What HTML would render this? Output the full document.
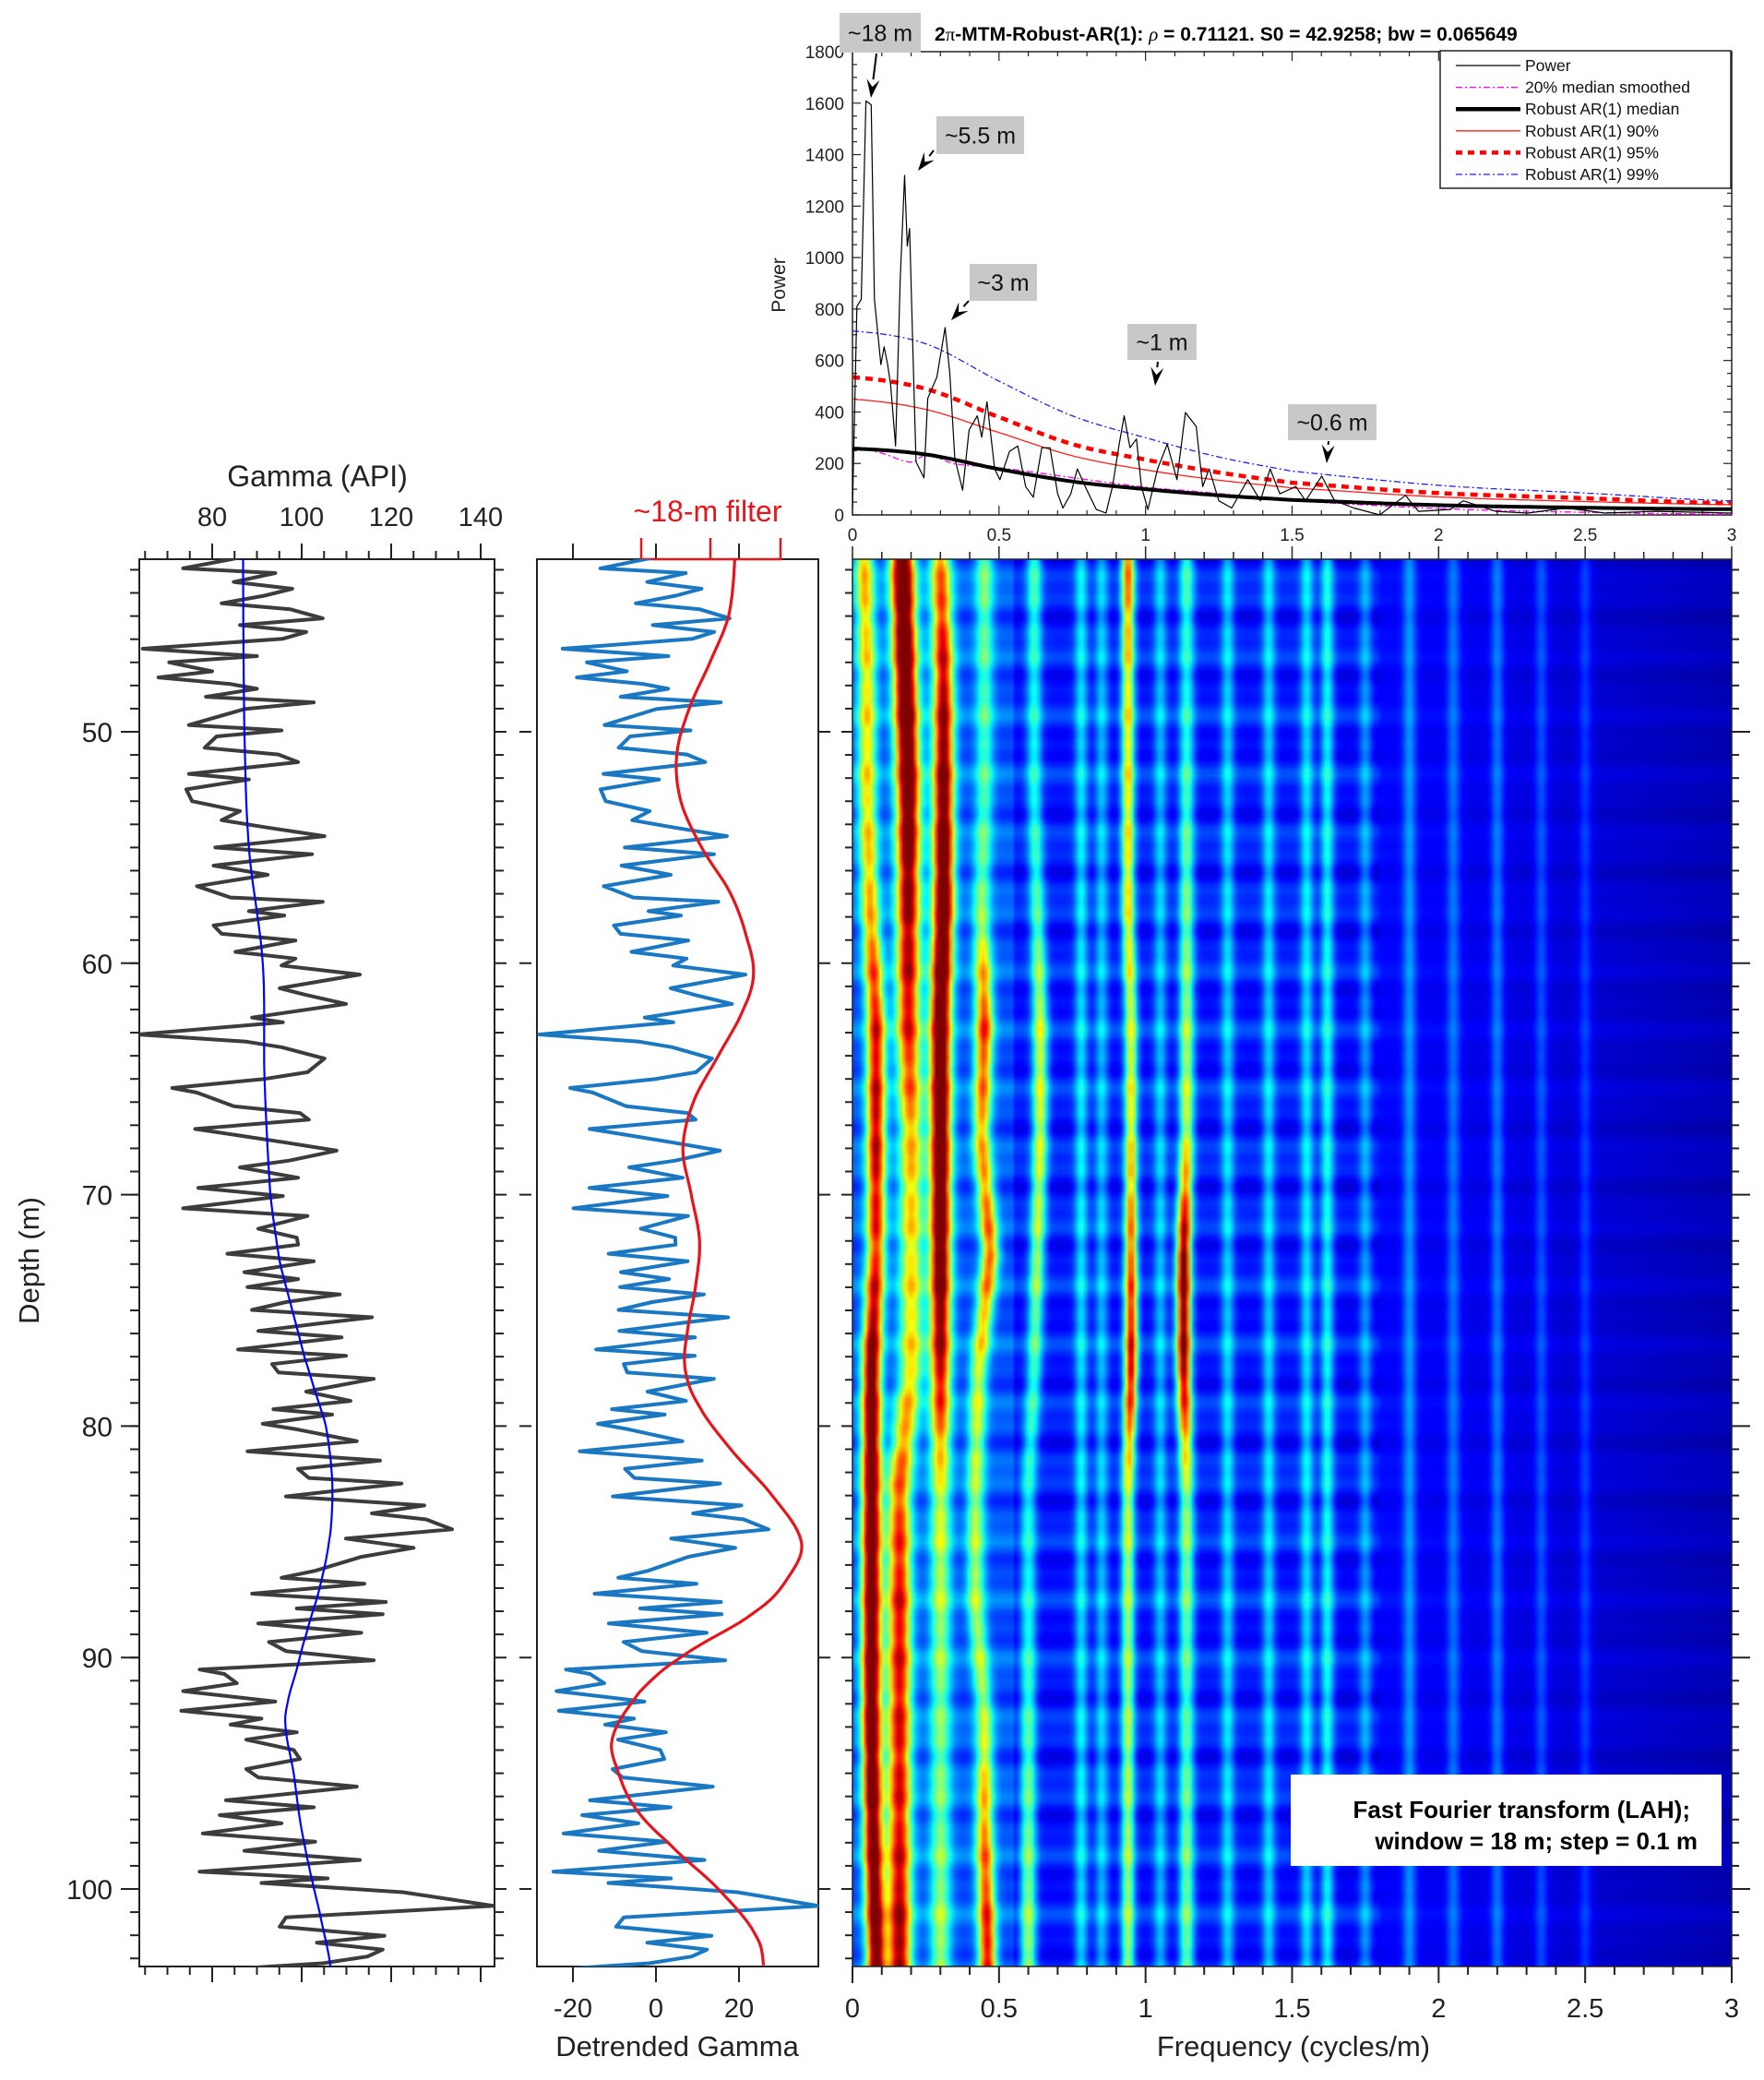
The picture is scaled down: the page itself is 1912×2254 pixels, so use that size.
<!DOCTYPE html>
<html><head><meta charset="utf-8">
<style>
html,body{margin:0;padding:0;background:#fff;}
#wrap{position:relative;width:1912px;height:2254px;overflow:hidden;}
#heat{position:absolute;left:924px;top:606px;}
#svg{position:absolute;left:0;top:0;}
text{font-family:"Liberation Sans",Arial,sans-serif;}
</style></head>
<body>
<div id="wrap">
<canvas id="heat" width="953" height="1525"></canvas>
<svg id="svg" width="1912" height="2254" xmlns="http://www.w3.org/2000/svg">
  <g id="gLeft"></g>
  <g id="gMid"></g>
  <g id="gHeat"></g>
  <g id="gSpec"></g>

  <text x="344" y="527" font-size="32" text-anchor="middle" fill="#222">Gamma (API)</text>
  <text x="767" y="565" font-size="32" text-anchor="middle" fill="#e8141c">~18-m filter</text>
  <text transform="translate(42,1366) rotate(-90)" font-size="31" text-anchor="middle" fill="#222">Depth (m)</text>
  <text x="734" y="2228" font-size="31" text-anchor="middle" fill="#222">Detrended Gamma</text>
  <text x="1402" y="2228" font-size="31" text-anchor="middle" fill="#222">Frequency (cycles/m)</text>

  <rect x="1399" y="1923" width="467" height="99" fill="#fff"/>
  <text x="1832" y="1970" font-size="26" font-weight="bold" text-anchor="end" fill="#000">Fast Fourier transform (LAH);</text>
  <text x="1840" y="2004" font-size="26" font-weight="bold" text-anchor="end" fill="#000">window = 18 m; step = 0.1 m</text>

  <text x="1013" y="44" font-size="21" font-weight="bold" fill="#000">2<tspan font-weight="normal" font-family="Liberation Serif">π</tspan>-MTM-Robust-AR(1): <tspan font-style="italic" font-weight="normal" font-family="Liberation Serif">ρ</tspan> = 0.71121. S0 = 42.9258; bw = 0.065649</text>
  <text transform="translate(851,309) rotate(-90)" font-size="21" text-anchor="middle" fill="#222">Power</text>
</svg>
</div>
<script>
// ---------- DATA ----------
const gammaDepth = [42.45,42.94,43.14,43.53,43.82,44.12,44.45,44.71,45.1,45.39,45.69,45.98,46.41,46.73,47,47.39,47.65,47.94,48.14,48.49,48.73,49.02,49.71,49.94,50.2,50.69,50.98,51.31,51.82,52.06,52.49,53,53.43,53.82,54.12,54.51,55,55.29,55.78,56.18,56.67,57.16,57.35,57.75,57.94,58.37,58.73,59.02,59.51,59.8,60.1,60.49,61.08,61.37,61.76,62.35,62.55,63.08,63.39,63.63,64.12,64.71,65,65.39,65.59,66.18,66.47,66.76,67.16,67.45,67.75,68.1,68.53,68.82,69.27,69.71,70.06,70.59,70.92,71.47,71.86,72.16,72.55,72.88,73.35,73.65,73.99,74.31,74.64,74.98,75.3,75.54,75.89,76.17,76.69,76.96,77.32,77.68,77.96,78.51,78.91,79.27,79.5,79.9,80.14,80.65,81.09,81.49,81.85,82.24,82.48,83.04,83.43,83.77,84.03,84.46,84.86,85.26,85.65,86.25,86.55,86.81,87.24,87.6,87.88,88.13,88.53,88.93,89.33,89.72,90.12,90.52,90.71,91.11,91.45,91.9,92.3,92.64,92.9,93.23,93.55,93.99,94.38,94.82,95.18,95.58,96.17,96.47,96.81,97.16,97.6,97.96,98.35,98.75,99.25,99.54,99.74,100.14,100.73,101.23,101.63,102.02,102.32,102.62,102.92,103.21,103.47];
const gammaValue = [86.9,73.5,94.1,84.8,97.9,91.7,82.1,97.5,104.7,86.2,101,95.8,64.5,90,70.4,80,68,84.1,90,78.6,102.7,87.2,74.8,95.5,81,78.3,94.8,99.2,74.8,88.2,74.2,75.5,86.2,82.1,91.7,105.1,80.7,102.3,80.3,92.4,76.6,84.1,104.7,88.2,96.1,80.3,82.1,98.6,85.2,98.6,95.5,113,95.1,101,109.9,88.9,95.8,63.5,87.6,95.5,105.1,101.3,91.7,71.1,76.6,84.8,99.6,101.6,76.2,86.2,96.5,107.8,97.2,86.2,99.2,76.9,95.8,73.5,101.3,90.3,98.9,99.2,83.4,102.7,87.2,99.2,87.9,108.5,96.5,88.9,115.7,105.1,90.3,108.9,85.8,109.9,93.4,94.8,116.1,101,110.9,93.7,106.8,91.3,98.9,112.3,87.9,117.5,99.2,101.6,122.3,96.5,127.4,115.7,127.8,133.6,109.9,125,113.3,103,95.5,114,88.9,118.8,98.9,118.1,90.3,113.3,92.7,96.5,116.1,77.2,82.7,85.5,73.5,94.1,73.1,91,84.1,98.9,87.6,98.2,99.6,87.6,90.3,112.3,83.1,102.7,81.7,95.5,77.9,103,87.2,113,77.2,105.8,91,122.6,142.9,96.5,95.1,118.5,103.4,118.1,114.7,104.7,83.1];
const trendDepth = [42.5,50,55,60,65,70,72.9,75,77,78.5,80,82,83.5,85,87,89,90.5,92,93,95,97,99,101,103.5];
const trendValue = [86.9,87.2,88.2,91.3,91.7,93,95.1,97.9,100.6,103,105.4,106.7,106.8,106.1,104,101,98.9,96.8,96.4,98.2,99.6,101.6,104,106.5];
const filterDepth = [42.5,45,47,49,51,53,55,57,59,60.5,62,64,66,68,70,72,74,76,77.5,79,81,83,85,86.5,88,90,91.5,93.5,95,96.5,98,100,102,103.5];
const filterValue = [19,17.5,13,8,5,6,11,18,22,23.5,21,15,9,6.5,8.5,10.5,9.5,7.5,7,10,18,28,35,32,24,6,-4,-10.5,-9,-5,3,15,24,26];
// power spectrum
const specFreq = [0,0.015,0.03,0.046,0.064,0.075,0.097,0.108,0.119,0.13,0.147,0.163,0.178,0.187,0.195,0.209,0.217,0.244,0.257,0.288,0.316,0.332,0.349,0.376,0.398,0.426,0.441,0.459,0.485,0.503,0.536,0.564,0.591,0.617,0.646,0.674,0.7,0.718,0.745,0.767,0.8,0.832,0.865,0.887,0.91,0.927,0.947,0.969,0.986,1.008,1.041,1.074,1.107,1.136,1.173,1.195,1.217,1.25,1.294,1.349,1.392,1.425,1.458,1.513,1.546,1.601,1.645,1.711,1.799,1.887,1.931,2.04,2.084,2.194,2.304,2.436,2.568,2.743,3];
const specPower = [27,810,838,1608,1594,838,584,653,591,508,268,920,1319,1044,1113,522,206,144,453,536,728,550,220,96,330,385,302,440,179,137,247,268,110,69,261,261,82,27,82,179,96,21,7,110,275,385,261,295,110,21,179,275,137,398,343,110,179,55,27,137,55,179,82,110,55,151,55,27,0,76,14,21,55,14,7,27,7,14,7];
const arFreq = [0,0.25,0.5,0.75,1,1.25,1.5,2,2.5,3];
const arMedian = [258,235,178,130,100,76,58,38,28,22];
const ar90 = [450,410,320,230,175,135,105,70,52,40];
const ar95 = [535,490,380,275,215,165,125,85,65,45];
const ar99 = [715,665,520,385,300,225,170,115,85,55];
const smoothFreq = [0,0.1,0.2,0.25,0.35,0.5,0.75,1,1.2,1.5,2,2.5,3];
const smoothPower = [262,240,205,232,198,182,145,108,88,55,25,10,3];
const powerTicks = [0,200,400,600,800,1000,1200,1400,1600,1800];
const freqTicks = [0,0.5,1,1.5,2,2.5,3];
const gammaTicks = [80,100,120,140];
const detTicks = [-20,0,20];
const depthTicks = [50,60,70,80,90,100];
// spectrogram ridges (depth knots every 5 m)
const ridgeDepth = [42.5,47.5,52.5,57.5,62.5,67.5,72.5,77.5,82.5,87.5,92.5,97.5,102.5];
const ridgeA_f = [0.17,0.18,0.19,0.19,0.19,0.2,0.2,0.2,0.16,0.16,0.16,0.16,0.16];
const ridgeA_a = [1,1,0.95,0.8,0.7,0.5,0.45,0.45,0.6,0.7,0.7,0.7,0.8];
const ridgeB_f = [0.3,0.31,0.31,0.31,0.3,0.3,0.3,0.3,0.3,0.3,0.3,0.3,0.3];
const ridgeB_a = [0.55,0.75,0.9,1,1,1,0.95,0.75,0.4,0.35,0.3,0.3,0.35];
const ridgeC_f = [0.04,0.05,0.05,0.06,0.08,0.08,0.08,0.065,0.065,0.065,0.065,0.07,0.08];
const ridgeC_a = [0.5,0.45,0.45,0.5,0.7,0.75,0.65,0.9,0.95,0.95,0.95,0.9,0.9];
const ridgeD_f = [0.45,0.45,0.45,0.44,0.45,0.44,0.47,0.43,0.42,0.42,0.45,0.45,0.46];
const ridgeD_a = [0.3,0.25,0.25,0.3,0.65,0.5,0.6,0.4,0.35,0.35,0.35,0.55,0.7];
const ridgeE_f = [0.62,0.62,0.62,0.63,0.64,0.64,0.63,0.62,0.6,0.6,0.6,0.6,0.6];
const ridgeE_a = [0.3,0.25,0.25,0.3,0.45,0.45,0.4,0.3,0.25,0.25,0.3,0.35,0.4];
const ridgeF_f = [0.94,0.94,0.94,0.94,0.95,0.95,0.95,0.95,0.94,0.94,0.94,0.94,0.94];
const ridgeF_a = [0.65,0.5,0.5,0.5,0.45,0.5,0.65,0.8,0.45,0.4,0.4,0.4,0.4];
const ridgeG_f = [1.14,1.14,1.14,1.14,1.14,1.14,1.13,1.13,1.14,1.14,1.14,1.14,1.14];
const ridgeG_a = [0.3,0.25,0.3,0.35,0.4,0.45,0.9,0.85,0.4,0.35,0.3,0.35,0.35];
const faintFreq = [0.78,0.85,1.05,1.28,1.42,1.55,1.62,1.75,1.9,2.05,2.2,2.35,2.5];
const faintAmp = [0.3,0.25,0.25,0.28,0.28,0.3,0.35,0.22,0.22,0.18,0.2,0.16,0.14];

// ---------- SCALES ----------
const dy = d => 793 + (d - 50) * 25.08;
const gx = v => 230 + (v - 80) * 4.85;
const mx = v => 711 + v * 4.5;
const FX0 = 924, FX1 = 1877;
const fx = f => FX0 + f * (FX1 - FX0) / 3;
const py = p => 558 - p * (502 / 1800);
const TOP = 606, BOT = 2131;
const NS = "http://www.w3.org/2000/svg";
function mk(parent, tag, attrs) {
  const el = document.createElementNS(NS, tag);
  for (const k in attrs) el.setAttribute(k, attrs[k]);
  parent.appendChild(el);
  return el;
}
function interp(xs, ys, x) {
  if (x <= xs[0]) return ys[0];
  if (x >= xs[xs.length - 1]) return ys[ys.length - 1];
  for (let i = 1; i < xs.length; i++) if (x <= xs[i]) { const t = (x - xs[i-1]) / (xs[i] - xs[i-1]); return ys[i-1] + t * (ys[i] - ys[i-1]); }
}
function cr(xs, ys, x) {
  let i = 1; while (i < xs.length - 1 && x > xs[i]) i++;
  const i0 = Math.max(i - 2, 0), i1 = i - 1, i2 = i, i3 = Math.min(i + 1, xs.length - 1);
  const t = Math.max(0, Math.min(1, (x - xs[i1]) / (xs[i2] - xs[i1])));
  const p0 = ys[i0], p1 = ys[i1], p2 = ys[i2], p3 = ys[i3];
  const t2 = t * t, t3 = t2 * t;
  return 0.5 * ((2*p1) + (-p0 + p2)*t + (2*p0 - 5*p1 + 4*p2 - p3)*t2 + (-p0 + 3*p1 - 3*p2 + p3)*t3);
}
const svg = document.getElementById('svg');
const defs = mk(svg, 'defs', {});
const cp1 = mk(defs, 'clipPath', {id: 'clipL'}); mk(cp1, 'rect', {x: 151, y: TOP, width: 385, height: BOT - TOP});
const cp2 = mk(defs, 'clipPath', {id: 'clipM'}); mk(cp2, 'rect', {x: 582, y: TOP, width: 305, height: BOT - TOP});
const cp3 = mk(defs, 'clipPath', {id: 'clipS'}); mk(cp3, 'rect', {x: FX0, y: 56, width: FX1 - FX0, height: 502});

// ---------- LEFT PANEL ----------
const gL = document.getElementById('gLeft');
let el = mk(gL, 'rect', {x: 151, y: TOP, width: 385, height: BOT - TOP, fill: '#fff', stroke: '#222', 'stroke-width': 2});


for (let v = 65; v <= 140; v += 5) {
  const major = v % 20 === 0;
  const len = major ? 17 : 9;
  el = mk(gL, 'line', {x1: gx(v), x2: gx(v), y1: TOP, y2: TOP - len, stroke: '#222', 'stroke-width': 2});
  
  
  el = mk(gL, 'line', {x1: gx(v), x2: gx(v), y1: BOT, y2: BOT + len, stroke: '#222', 'stroke-width': 2});
  
  
}
gammaTicks.forEach(v => {
  el = mk(gL, 'text', {x: gx(v), y: 570, 'font-size': 29, 'text-anchor': 'middle', fill: '#222'});
  el.textContent = v;
  
  
});
for (let d = 43; d <= 103; d++) {
  el = mk(gL, 'line', {x1: 151, x2: 141, y1: dy(d), y2: dy(d), stroke: '#222', 'stroke-width': 2});
  
  
  if (d % 10 !== 0) {
    el = mk(gL, 'line', {x1: 536, x2: 546, y1: dy(d), y2: dy(d), stroke: '#222', 'stroke-width': 2});
    
    
    el = mk(gL, 'line', {x1: FX0, x2: FX0 - 8, y1: dy(d), y2: dy(d), stroke: '#222', 'stroke-width': 2});
    
    
    el = mk(gL, 'line', {x1: FX1, x2: FX1 + 8, y1: dy(d), y2: dy(d), stroke: '#222', 'stroke-width': 2});
    
    
  }
}
depthTicks.forEach(d => {
  el = mk(gL, 'line', {x1: 131, x2: 151, y1: dy(d), y2: dy(d), stroke: '#222', 'stroke-width': 2});
  
  
  el = mk(gL, 'line', {x1: 536, x2: 582, y1: dy(d), y2: dy(d), stroke: '#222', 'stroke-width': 2, 'stroke-dasharray': '13,14'});
  
  
  el = mk(gL, 'line', {x1: 887, x2: FX0, y1: dy(d), y2: dy(d), stroke: '#222', 'stroke-width': 2, 'stroke-dasharray': '13,12'});
  
  
  el = mk(gL, 'line', {x1: FX1, x2: FX1 + 20, y1: dy(d), y2: dy(d), stroke: '#222', 'stroke-width': 2});
  
  
  el = mk(gL, 'text', {x: 122, y: dy(d) + 11, 'font-size': 30, 'text-anchor': 'end', fill: '#222'});
  el.textContent = d;
  
  
});
const gClip = mk(gL, 'g', {'clip-path': 'url(#clipL)'});
let pts = gammaDepth.map((d, i) => gx(gammaValue[i]).toFixed(1) + ',' + dy(d).toFixed(1)).join(' ');
el = mk(gClip, 'polyline', {points: pts, fill: 'none', stroke: '#3c3c3c', 'stroke-width': 4, 'stroke-linejoin': 'round'});


let tp = [];
for (let d = 42.5; d <= 103.5; d += 0.25) tp.push(gx(cr(trendDepth, trendValue, d)).toFixed(1) + ',' + dy(d).toFixed(1));
el = mk(gClip, 'polyline', {points: tp.join(' '), fill: 'none', stroke: '#0000ff', 'stroke-width': 2.2});



// ---------- MIDDLE PANEL ----------
const gM = document.getElementById('gMid');
el = mk(gM, 'rect', {x: 582, y: TOP, width: 305, height: BOT - TOP, fill: '#fff', stroke: '#222', 'stroke-width': 2});


detTicks.forEach(v => {
  el = mk(gM, 'line', {x1: mx(v), x2: mx(v), y1: TOP, y2: TOP - 17, stroke: '#222', 'stroke-width': 2});
  
  
  el = mk(gM, 'line', {x1: mx(v), x2: mx(v), y1: BOT, y2: BOT + 17, stroke: '#222', 'stroke-width': 2});
  
  
  el = mk(gM, 'text', {x: mx(v), y: 2186, 'font-size': 29, 'text-anchor': 'middle', fill: '#222'});
  el.textContent = v;
  
  
});
el = mk(gM, 'path', {d: 'M695,583 V606 H846 V583 M770,583 V606', fill: 'none', stroke: '#e8141c', 'stroke-width': 2.5});


const mClip = mk(gM, 'g', {'clip-path': 'url(#clipM)'});
pts = gammaDepth.map((d, i) => mx(gammaValue[i] - cr(trendDepth, trendValue, d)).toFixed(1) + ',' + dy(d).toFixed(1)).join(' ');
el = mk(mClip, 'polyline', {points: pts, fill: 'none', stroke: '#1a78c2', 'stroke-width': 4, 'stroke-linejoin': 'round'});


let fp = [];
for (let d = 42.5; d <= 103.5; d += 0.2) fp.push(mx(cr(filterDepth, filterValue, d)).toFixed(1) + ',' + dy(d).toFixed(1));
el = mk(gM, 'polyline', {points: fp.join(' '), fill: 'none', stroke: '#e8141c', 'stroke-width': 3.2});



// ---------- SPECTROGRAM AXES ----------
const gH = document.getElementById('gHeat');
el = mk(gH, 'rect', {x: FX0, y: TOP, width: FX1 - FX0, height: BOT - TOP, fill: 'none', stroke: '#222', 'stroke-width': 1.5});


for (let k = 0; k <= 30; k++) {
  const f = k / 10, major = k % 5 === 0;
  el = mk(gH, 'line', {x1: fx(f), x2: fx(f), y1: BOT, y2: BOT + (major ? 18 : 9), stroke: '#222', 'stroke-width': 2});
  
  
  el = mk(gH, 'line', {x1: fx(f), x2: fx(f), y1: TOP, y2: TOP - (major ? 14 : 8), stroke: '#222', 'stroke-width': 1.5});
  
  
}
freqTicks.forEach(f => {
  el = mk(gH, 'text', {x: fx(f), y: 2186, 'font-size': 29, 'text-anchor': 'middle', fill: '#222'});
  el.textContent = f;
  
  
});

// ---------- POWER SPECTRUM ----------
const gS = document.getElementById('gSpec');
el = mk(gS, 'rect', {x: FX0, y: 56, width: FX1 - FX0, height: 502, fill: '#fff', stroke: '#222', 'stroke-width': 1.5});


for (let p = 0; p <= 1800; p += 50) {
  const major = p % 200 === 0;
  el = mk(gS, 'line', {x1: FX0, x2: FX0 + (major ? 9 : 5), y1: py(p), y2: py(p), stroke: '#222', 'stroke-width': 1.2});
  
  
  el = mk(gS, 'line', {x1: FX1, x2: FX1 - (major ? 9 : 5), y1: py(p), y2: py(p), stroke: '#222', 'stroke-width': 1.2});
  
  
}
powerTicks.forEach(p => {
  el = mk(gS, 'text', {x: 915, y: py(p) + 7, 'font-size': 19, 'text-anchor': 'end', fill: '#222'});
  el.textContent = p;
  
  
});
for (let k = 0; k <= 30; k++) {
  const f = k / 10, major = k % 5 === 0;
  el = mk(gS, 'line', {x1: fx(f), x2: fx(f), y1: 558, y2: 558 - (major ? 10 : 5), stroke: '#222', 'stroke-width': 1.2});
  
  
  el = mk(gS, 'line', {x1: fx(f), x2: fx(f), y1: 56, y2: 56 + (major ? 10 : 5), stroke: '#222', 'stroke-width': 1.2});
  
  
}
freqTicks.forEach(f => {
  el = mk(gS, 'text', {x: fx(f), y: 586, 'font-size': 19, 'text-anchor': 'middle', fill: '#222'});
  el.textContent = f;
  
  
});
const sClip = mk(gS, 'g', {'clip-path': 'url(#clipS)'});
function curve(xs, ys, smooth) {
  const out = [];
  for (let f = 0; f <= 3.0001; f += 0.01) out.push(fx(f).toFixed(1) + ',' + py(smooth ? cr(xs, ys, f) : interp(xs, ys, f)).toFixed(1));
  return out.join(' ');
}
el = mk(sClip, 'polyline', {points: curve(smoothFreq, smoothPower, true), fill: 'none', stroke: '#ff00ff', 'stroke-width': 1.3, 'stroke-dasharray': '7,3,2,3'});


el = mk(sClip, 'polyline', {points: curve(arFreq, ar99, true), fill: 'none', stroke: '#2020ff', 'stroke-width': 1.3, 'stroke-dasharray': '7,3,2,3'});


el = mk(sClip, 'polyline', {points: curve(arFreq, ar90, true), fill: 'none', stroke: '#ff2020', 'stroke-width': 1.3});


el = mk(sClip, 'polyline', {points: curve(arFreq, ar95, true), fill: 'none', stroke: '#ff0000', 'stroke-width': 4.5, 'stroke-dasharray': '8,6'});


el = mk(sClip, 'polyline', {points: curve(arFreq, arMedian, true), fill: 'none', stroke: '#000', 'stroke-width': 4});


pts = specFreq.map((f, i) => fx(f).toFixed(1) + ',' + py(specPower[i]).toFixed(1)).join(' ');
el = mk(sClip, 'polyline', {points: pts, fill: 'none', stroke: '#000', 'stroke-width': 1.2, 'stroke-linejoin': 'round'});



// legend
el = mk(gS, 'rect', {x: 1561, y: 55, width: 315, height: 149, fill: '#fff', stroke: '#222', 'stroke-width': 1.5});


const legLabels = ['Power', '20% median smoothed', 'Robust AR(1) median', 'Robust AR(1) 90%', 'Robust AR(1) 95%', 'Robust AR(1) 99%'];
const legStyles = [
  {stroke: '#000', 'stroke-width': 1.2},
  {stroke: '#ff00ff', 'stroke-width': 1.3, 'stroke-dasharray': '7,3,2,3'},
  {stroke: '#000', 'stroke-width': 4.5},
  {stroke: '#ff2020', 'stroke-width': 1.3},
  {stroke: '#ff0000', 'stroke-width': 4.5, 'stroke-dasharray': '7,6'},
  {stroke: '#2020ff', 'stroke-width': 1.3, 'stroke-dasharray': '7,3,2,3'}];
legLabels.forEach((lab, i) => {
  const y = 71 + i * 23.6;
  const a = Object.assign({x1: 1578, x2: 1648, y1: y, y2: y}, legStyles[i]);
  el = mk(gS, 'line', a);
  
  
  el = mk(gS, 'text', {x: 1653, y: y + 6, 'font-size': 17.5, fill: '#111'});
  el.textContent = lab;
  
  
});
// annotations
const annText = ['~18 m', '~5.5 m', '~3 m', '~1 m', '~0.6 m'];
const annBox = [[910,14,88,43],[1015,126,95,41],[1051,286,73,40],[1222,351,75,39],[1396,438,96,39]];
const annArrow = [[950,58,944,106],[1012,163,995,185],[1050,326,1031,347],[1255,392,1252,418],[1440,478,1438,502]];
annText.forEach((t, i) => {
  const b = annBox[i];
  el = mk(gS, 'rect', {x: b[0], y: b[1], width: b[2], height: b[3], fill: '#c8c8c8'});
  
  
  el = mk(gS, 'text', {x: b[0] + b[2] / 2, y: b[1] + b[3] / 2 + 9, 'font-size': 25, 'text-anchor': 'middle', fill: '#111'});
  el.textContent = t;
  
  
  const a = annArrow[i];
  const ang = Math.atan2(a[3] - a[1], a[2] - a[0]);
  const L = 20, W = 7;
  const bx = a[2] - L * Math.cos(ang), by = a[3] - L * Math.sin(ang);
  el = mk(gS, 'line', {x1: a[0], y1: a[1], x2: bx, y2: by, stroke: '#000', 'stroke-width': 2});
  
  
  const px = -Math.sin(ang), pyv = Math.cos(ang);
  el = mk(gS, 'polygon', {points: `${a[2]},${a[3]} ${bx + W*px},${by + W*pyv} ${a[2] - 0.6*L*Math.cos(ang)},${a[3] - 0.6*L*Math.sin(ang)} ${bx - W*px},${by - W*pyv}`, fill: '#000'});
  
  
});

// ---------- HEATMAP ----------
(function () {
  const cw = 300, ch = 244;
  const off = document.createElement('canvas'); off.width = cw; off.height = ch;
  const octx = off.getContext('2d');
  const img = octx.createImageData(cw, ch);
  const ridges = [[ridgeA_f, ridgeA_a, 0.04], [ridgeB_f, ridgeB_a, 0.035], [ridgeC_f, ridgeC_a, 0.032], [ridgeD_f, ridgeD_a, 0.03], [ridgeE_f, ridgeE_a, 0.026], [ridgeF_f, ridgeF_a, 0.022], [ridgeG_f, ridgeG_a, 0.025]];
  const cl = x => Math.max(0, Math.min(1, x));
  for (let r = 0; r < ch; r++) {
    const d = 42.5 + (r + 0.5) * (103.3 - 42.5) / ch;
    const rc = ridges.map(R => [interp(ridgeDepth, R[0], d), interp(ridgeDepth, R[1], d), R[2]]);
    const band = 0.035 * Math.cos(d * 2.3) + 0.025 * Math.cos(d * 5.1);
    for (let c = 0; c < cw; c++) {
      const f = (c + 0.5) * 3 / cw;
      let v = f < 1.5 ? 0.15 : 0.15 - (f - 1.5) * 0.065;
      if (f < 0.55) v += 0.06;
      for (const q of rc) { const z = (f - q[0]) / q[2]; v += q[1] * Math.exp(-z * z); }
      for (let k = 0; k < faintFreq.length; k++) { const z = (f - faintFreq[k]) / 0.022; v += faintAmp[k] * 0.7 * Math.exp(-z * z); }
      v += (f < 1.8 ? band : band * 0.3);
      v = cl(v);
      const i = (r * cw + c) * 4;
      img.data[i] = 255 * cl(1.5 - Math.abs(4 * v - 3));
      img.data[i+1] = 255 * cl(1.5 - Math.abs(4 * v - 2));
      img.data[i+2] = 255 * cl(1.5 - Math.abs(4 * v - 1));
      img.data[i+3] = 255;
    }
  }
  octx.putImageData(img, 0, 0);
  const cv = document.getElementById('heat');
  const ctx = cv.getContext('2d');
  ctx.imageSmoothingEnabled = true;
  ctx.drawImage(off, 0, 0, cw, ch, 0, 0, cv.width, cv.height);
})();
</script>
</body></html>
